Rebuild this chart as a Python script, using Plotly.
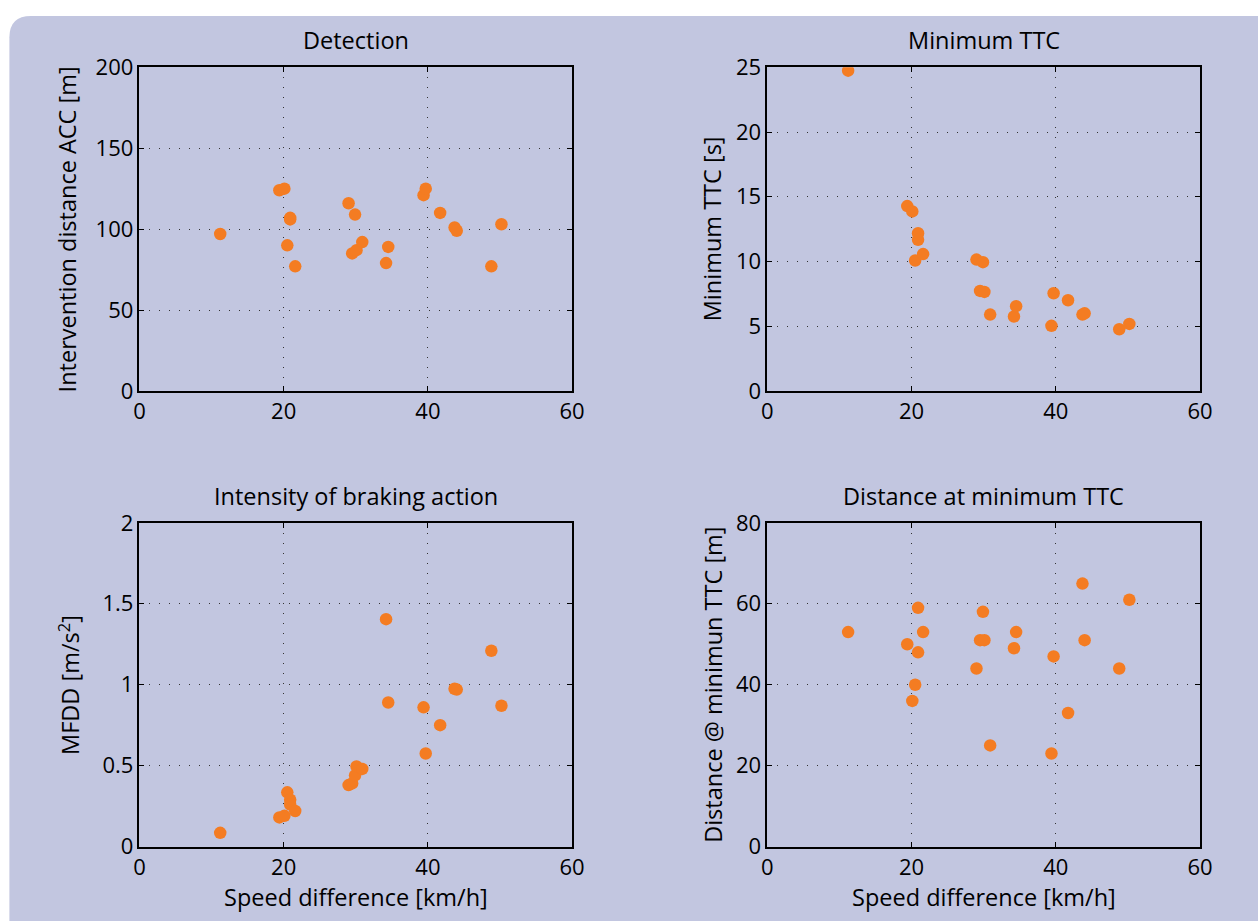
import plotly.graph_objects as go

# ---- data ----
speed_diff = [11.2, 19.4, 20.1, 20.5, 20.9, 20.9, 21.6, 29.0, 29.5, 29.9, 30.1,
              30.9, 34.2, 34.5, 39.4, 39.7, 41.7, 43.7, 44.0, 48.8, 50.2]
intervention_dist = [97, 124, 125, 90, 107, 106, 77, 116, 85, 109, 87,
                     92, 79, 89, 121, 125, 110, 101, 99, 77, 103]
min_ttc = [24.74, 14.28, 13.87, 10.08, 12.19, 11.68, 10.57, 10.15, 7.73, 9.95, 7.65,
           5.9, 5.75, 6.55, 5.03, 7.55, 7.01, 5.9, 6.0, 4.77, 5.18]
mfdd = [0.085, 0.18, 0.19, 0.335, 0.29, 0.26, 0.22, 0.38, 0.39, 0.44, 0.495,
        0.48, 1.405, 0.89, 0.86, 0.575, 0.75, 0.975, 0.97, 1.21, 0.87]
dist_min_ttc = [53, 50, 36, 40, 59, 48, 53, 44, 51, 58, 51,
                25, 49, 53, 23, 47, 33, 65, 51, 44, 61]

titles = ["Detection", "Minimum TTC", "Intensity of braking action", "Distance at minimum TTC"]
ytitles = ["Intervention distance ACC [m]", "Minimum TTC [s]",
           "MFDD [m/s<sup>2</sup>]", "Distance @ minimun TTC [m]"]
yranges = [[0, 200], [0, 25], [0, 2], [0, 80]]
ydticks = [50, 5, 0.5, 20]
x_title = "Speed difference [km/h]"

# figure canvas (larger than the window; overflow is clipped)
WF, HF = 1290, 960
ORANGE = "#F47C22"
BG = "#C2C6E0"
FONT = "Open Sans"
TXT = 23.5
TICK = 22

# map target picture pixels -> page pixels (compensates the capture transform)
SX, OX, SY, OY = 0.987, 4.6, 0.9675, 15.5
def P(x):
    return (x - OX) / SX
def Q(y):
    return (y - OY) / SY
def fx(x):  # page px -> paper fraction
    return x / WF
def fy(y):
    return 1 - y / HF

# panel boxes in target pixels (left, right, top, bottom)
boxes = [(138.3, 571.7, 66.7, 390.0), (767.3, 1200.7, 66.7, 390.0),
         (138.3, 571.7, 521.7, 845.0), (767.3, 1200.7, 521.7, 845.0)]
ytitle_x = [66, 712, 68, 713]
title_y = [39, 39, 495, 495]
xtitle_y = 895

fig = go.Figure()
series = [intervention_dist, min_ttc, mfdd, dist_min_ttc]
layout = {}
annotations = []
for i in range(4):
    l, r, t, b = boxes[i]
    xa = "xaxis" if i == 0 else f"xaxis{i+1}"
    ya = "yaxis" if i == 0 else f"yaxis{i+1}"
    xr = "x" if i == 0 else f"x{i+1}"
    yr = "y" if i == 0 else f"y{i+1}"
    fig.add_trace(go.Scatter(x=speed_diff, y=series[i], mode="markers",
                             marker=dict(color=ORANGE, size=12.5, line=dict(width=0)),
                             xaxis=xr, yaxis=yr, showlegend=False))
    common = dict(showline=True, linecolor="black", linewidth=1.5, mirror="allticks",
                  ticks="inside", ticklen=5, tickcolor="black",
                  showgrid=True, gridcolor="#333333", gridwidth=1, griddash="1px,9px",
                  zeroline=False, tickfont=dict(family=FONT, size=TICK, color="black"))
    layout[xa] = dict(common, domain=[fx(P(l)), fx(P(r))], range=[0, 60], dtick=20,
                      anchor=yr, fixedrange=True)
    layout[ya] = dict(common, domain=[fy(Q(b)), fy(Q(t))], range=yranges[i],
                      dtick=ydticks[i], anchor=xr, fixedrange=True)
    cx = (l + r) / 2
    annotations.append(dict(text=titles[i], x=fx(P(cx)), y=fy(Q(title_y[i])),
                            xref="paper", yref="paper", showarrow=False,
                            xanchor="center", yanchor="middle",
                            font=dict(family=FONT, size=TXT, color="black")))
    annotations.append(dict(text=ytitles[i], x=fx(P(ytitle_x[i])), y=fy(Q((t + b) / 2)),
                            xref="paper", yref="paper", showarrow=False, textangle=-90,
                            xanchor="center", yanchor="middle",
                            font=dict(family=FONT, size=TXT, color="black")))
    if i >= 2:
        annotations.append(dict(text=x_title, x=fx(P(cx)), y=fy(Q(xtitle_y)),
                                xref="paper", yref="paper", showarrow=False,
                                xanchor="center", yanchor="middle",
                                font=dict(family=FONT, size=TXT, color="black")))

# rounded background panel (page px)
x0, x1, y0, y1, rad = P(8), WF + 30, 0, HF + 30, 22
path = (f"M {fx(x0+rad)},{fy(y0)} L {fx(x1-rad)},{fy(y0)} "
        f"Q {fx(x1)},{fy(y0)} {fx(x1)},{fy(y0+rad)} "
        f"L {fx(x1)},{fy(y1-rad)} Q {fx(x1)},{fy(y1)} {fx(x1-rad)},{fy(y1)} "
        f"L {fx(x0+rad)},{fy(y1)} Q {fx(x0)},{fy(y1)} {fx(x0)},{fy(y1-rad)} "
        f"L {fx(x0)},{fy(y0+rad)} Q {fx(x0)},{fy(y0)} {fx(x0+rad)},{fy(y0)} Z")

fig.update_layout(
    width=WF, height=HF, margin=dict(l=0, r=0, t=0, b=0),
    paper_bgcolor="white", plot_bgcolor="white",
    font=dict(family=FONT, size=TXT, color="black"),
    annotations=annotations,
    shapes=[dict(type="path", path=path, xref="paper", yref="paper",
                 fillcolor=BG, line=dict(width=0), layer="below")],
    **layout,
)
fig.write_html("out.html", config={"displayModeBar": False},
               post_script="var gd=document.getElementById('{plot_id}');"
                           "gd.style.position='fixed';gd.style.left='0px';gd.style.top='0px';"
                           "document.body.style.margin='0px';"
                           "document.documentElement.style.overflow='hidden';"
                           "document.body.style.overflow='hidden';")
